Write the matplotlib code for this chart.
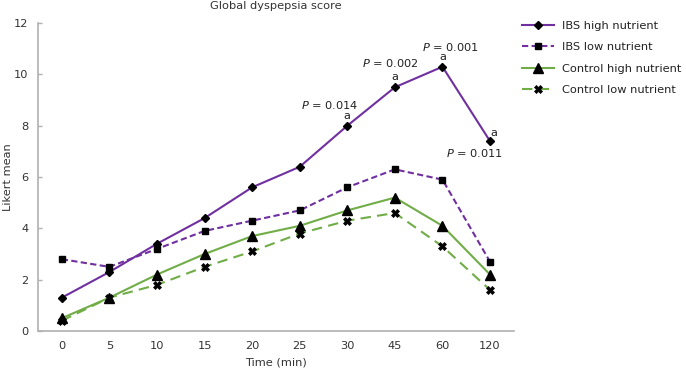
import matplotlib
matplotlib.use("Agg")
import matplotlib.pyplot as plt

categories = ["0", "5", "10", "15", "20", "25", "30", "45", "60", "120"]
ibs_high = [1.3, 2.3, 3.4, 4.4, 5.6, 6.4, 8.0, 9.5, 10.3, 7.4]
ibs_low = [2.8, 2.5, 3.2, 3.9, 4.3, 4.7, 5.6, 6.3, 5.9, 2.7]
ctrl_high = [0.5, 1.3, 2.2, 3.0, 3.7, 4.1, 4.7, 5.2, 4.1, 2.2]
ctrl_low = [0.4, 1.3, 1.8, 2.5, 3.1, 3.8, 4.3, 4.6, 3.3, 1.6]
yticks = [0, 2, 4, 6, 8, 10, 12]

purple = "#7030A0"
green = "#70AD47"
fs = 8.2

fig = plt.figure(figsize=(6.86, 3.79), dpi=100)
ax = fig.add_axes([0.0554, 0.1266, 0.6936, 0.8124])
x = list(range(len(categories)))

l1, = ax.plot(x, ibs_high, color=purple, lw=1.5, marker="D", ms=4,
              mfc="black", mec="black", label="IBS high nutrient")
l2, = ax.plot(x, ibs_low, color=purple, lw=1.5, ls=(0, (3, 1.6)), marker="s", ms=4.5,
              mfc="black", mec="black", label="IBS low nutrient")
l3, = ax.plot(x, ctrl_high, color=green, lw=1.5, marker="^", ms=7,
              mfc="black", mec="black", label="Control high nutrient")
l4, = ax.plot(x, ctrl_low, color=green, lw=1.5, ls=(0, (5, 3)), marker="X", ms=5.5,
              mfc="black", mec="black", mew=0.5, label="Control low nutrient")

ax.set_xlim(-0.5, len(categories) - 0.5)
ax.set_ylim(0, 12)
ax.set_xticks(x)
ax.set_xticklabels(categories)
ax.set_yticks(yticks)
ax.tick_params(axis="x", length=0, labelsize=fs, pad=7, labelcolor="#333333")
ax.tick_params(axis="y", direction="in", length=3, width=1, color="#b0b0b0",
               labelsize=fs, pad=7, labelcolor="#333333")
for s in ["top", "right"]:
    ax.spines[s].set_visible(False)
for s in ["left", "bottom"]:
    ax.spines[s].set_color("#b0b0b0")
    ax.spines[s].set_linewidth(1.2)

ax.set_xlabel("Time (min)", fontsize=fs, color="#333333", labelpad=5)
ax.set_ylabel("Likert mean", fontsize=fs, color="#333333")
ax.yaxis.set_label_coords(-0.052, 0.5)
ax.set_title("Global dyspepsia score", fontsize=fs, color="#333333", pad=10)

# significance annotations
ann = [
    (5.64, 8.80, "$P$ = 0.014"), (6.0, 8.38, "a"),
    (6.90, 10.44, "$P$ = 0.002"), (7.0, 9.89, "a"),
    (8.18, 11.06, "$P$ = 0.001"), (8.0, 10.67, "a"),
    (9.08, 7.71, "a"), (8.68, 6.93, "$P$ = 0.011"),
]
for ax_x, ax_y, t in ann:
    ax.text(ax_x, ax_y, t, fontsize=fs, ha="center", va="center", color="#222222")

leg = fig.legend(handles=[l1, l2, l3, l4], loc="upper left",
                 bbox_to_anchor=(522 / 686, 1 - 21 / 379), frameon=False, fontsize=fs,
                 handlelength=2.8, handletextpad=0.7, labelspacing=1.0,
                 borderaxespad=0, borderpad=0)
for t in leg.get_texts():
    t.set_color("#222222")

fig.savefig("out.png", dpi=100)
